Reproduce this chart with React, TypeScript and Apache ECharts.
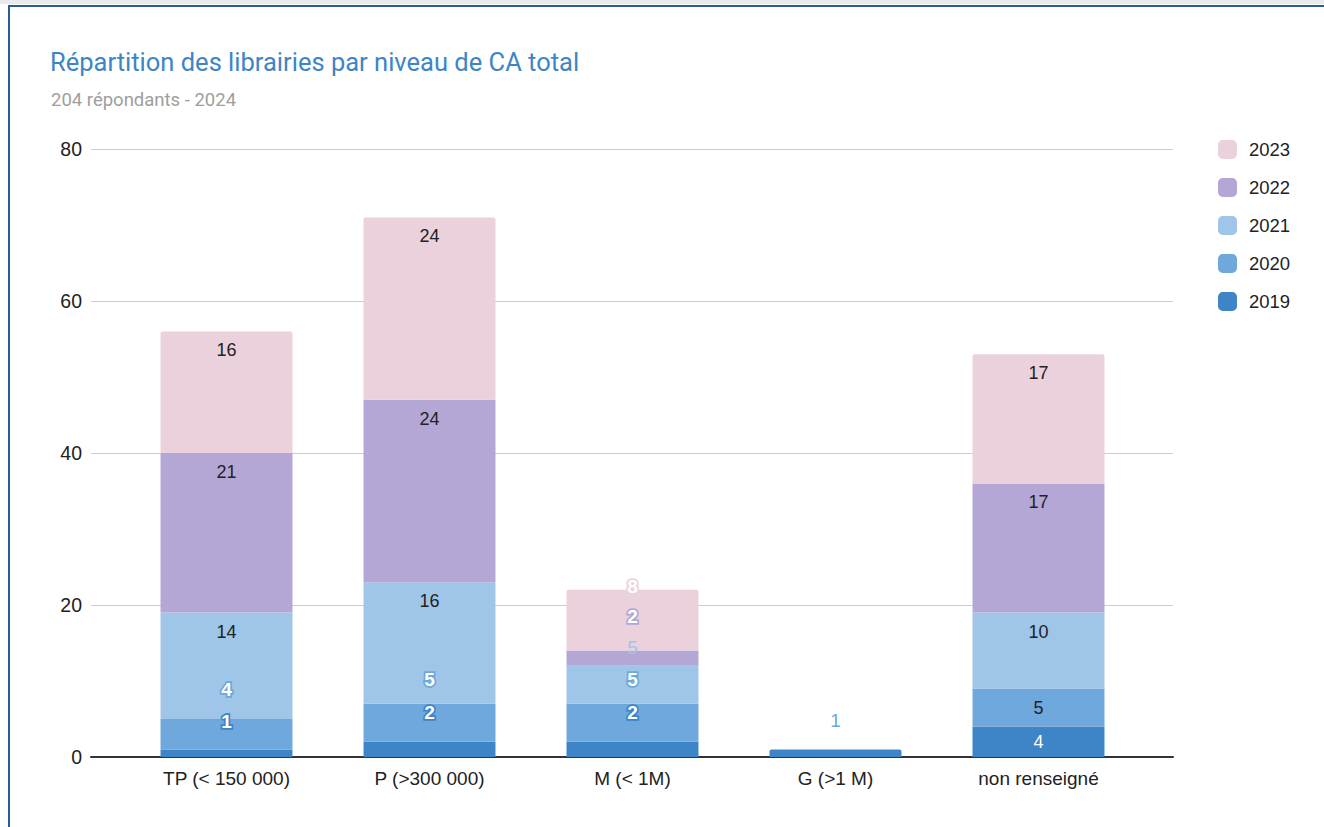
import React, { useEffect, useRef } from "react";
import * as echarts from "echarts";

const categories = ["TP (< 150 000)", "P (>300 000)", "M (< 1M)", "G (>1 M)", "non renseigné"];
const years = ["2019", "2020", "2021", "2022", "2023"];
const s2019 = [1, 2, 2, 1, 4];
const s2020 = [4, 5, 5, 0, 5];
const s2021 = [14, 16, 5, 0, 10];
const s2022 = [21, 24, 2, 0, 17];
const s2023 = [16, 24, 8, 0, 17];
const yTicks = [0, 20, 40, 60, 80];

const colors = ["#3d85c6", "#6fa8dc", "#9fc5e8", "#b4a7d6", "#ead1dc"];

// label placement tweaks (style only): [seriesIndex][categoryIndex]
type LabelKind = "top" | "center" | "centerWhite" | { dy: number; mode: "outline" | "plain" };
const labelKinds: LabelKind[][] = [
  [{ dy: -32, mode: "outline" }, { dy: -37, mode: "outline" }, { dy: -37, mode: "outline" }, { dy: -33, mode: "plain" }, "centerWhite"],
  [{ dy: -45, mode: "outline" }, { dy: -43, mode: "outline" }, { dy: -43, mode: "outline" }, "top", "center"],
  ["top", "top", { dy: -37, mode: "plain" }, "top", "top"],
  ["top", "top", { dy: -42, mode: "outline" }, "top", "top"],
  ["top", "top", { dy: -34, mode: "outline" }, "top", "top"],
];

export default function App() {
  const ref = useRef<HTMLDivElement>(null);
  useEffect(() => {
    if (!ref.current) return;
    const chart = echarts.init(ref.current, null, { renderer: "svg" });
    const seriesData = [s2019, s2020, s2021, s2022, s2023];
    const baseFont = "'Liberation Sans', Arial, sans-serif";

    const series = seriesData.map((arr, si) => ({
      name: years[si],
      type: "bar",
      stack: "total",
      xAxisIndex: 1,
      yAxisIndex: 1,
      barWidth: "65%",
      itemStyle: { color: colors[si], borderRadius: si === 4 ? [2, 2, 0, 0] : 0 },
      data: arr.map((v, ci) => {
        const kind = labelKinds[si][ci];
        let label: any = { show: v > 0 };
        if (kind === "top") {
          label = { ...label, position: "insideTop", distance: 10, color: "#222" };
        } else if (kind === "center") {
          label = { ...label, position: "inside", color: "#222" };
        } else if (kind === "centerWhite") {
          label = { ...label, position: "inside", color: "#fff" };
        } else {
          if (kind.mode === "outline") {
            label = {
              ...label,
              position: "inside",
              offset: [0, kind.dy],
              color: "#fff",
              fontSize: 19,
              fontWeight: "bold",
              textBorderColor: colors[si],
              textBorderWidth: 3.5,
            };
          } else {
            label = {
              ...label,
              position: "inside",
              offset: [0, kind.dy],
              fontSize: 19,
              color: si === 0 ? "#6fa8dc" : colors[si],
            };
          }
        }
        const item: any = { value: v, label };
        if (si === 0 && ci === 3) item.itemStyle = { borderRadius: [2, 2, 0, 0] };
        return item;
      }),
      label: { fontSize: 18, fontFamily: baseFont, lineHeight: 18 },
    }));

    chart.setOption({
      animation: false,
      backgroundColor: "#fff",
      title: [
        {
          text: "Répartition des librairies par niveau de CA total",
          left: 50,
          top: 49,
          padding: 0,
          textStyle: { fontFamily: "Roboto, sans-serif", fontSize: 25.5, fontWeight: "normal", color: "#3d85c6" },
        },
        {
          text: "204 répondants - 2024",
          left: 51,
          top: 90,
          padding: 0,
          textStyle: { fontFamily: "Roboto, sans-serif", fontSize: 18.5, fontWeight: "normal", color: "#9e9e9e" },
        },
      ],
      legend: {
        orient: "vertical",
        left: 1218,
        top: 140,
        padding: 0,
        itemWidth: 19,
        itemHeight: 19,
        itemGap: 19,
        icon: "roundRect",
        data: ["2023", "2022", "2021", "2020", "2019"],
        textStyle: { fontFamily: baseFont, fontSize: 18.5, color: "#222", padding: [0, 0, 0, 7] },
      },
      grid: [
        { left: 91, right: 151, top: 149, bottom: 70 },
        { left: 125, right: 184, top: 149, bottom: 70 },
      ],
      xAxis: [
        {
          type: "category",
          gridIndex: 0,
          data: categories,
          axisLine: { show: true, lineStyle: { color: "#333", width: 2 } },
          axisTick: { show: false },
          axisLabel: { show: false },
          splitLine: { show: false },
        },
        {
          type: "category",
          gridIndex: 1,
          data: categories,
          axisLine: { show: false },
          axisTick: { show: false },
          axisLabel: { fontFamily: baseFont, fontSize: 19, color: "#222", margin: 12 },
        },
      ],
      yAxis: [
        {
          type: "value",
          gridIndex: 0,
          min: 0,
          max: yTicks[yTicks.length - 1],
          interval: 20,
          axisLine: { show: false },
          axisTick: { show: false },
          axisLabel: { fontFamily: baseFont, fontSize: 19.5, color: "#222", margin: 9 },
          splitLine: { lineStyle: { color: "#cccccc", width: 1 } },
        },
        {
          type: "value",
          gridIndex: 1,
          min: 0,
          max: yTicks[yTicks.length - 1],
          interval: 20,
          show: false,
          splitLine: { show: false },
        },
      ],
      graphic: [
        { type: "rect", shape: { x: 0, y: 0, width: 1324, height: 4 }, style: { fill: "#e8eaed" }, silent: true },
        {
          type: "polyline",
          shape: { points: [[9, 827], [9, 6], [1324, 6]] },
          style: { stroke: "#2d5b94", lineWidth: 2, fill: null },
          silent: true,
        },
      ],
      series,
    });
    return () => chart.dispose();
  }, []);
  return (
    <div
      ref={ref}
      style={{ position: "absolute", left: 0, top: 0, width: 1324, height: 827 }}
    />
  );
}
